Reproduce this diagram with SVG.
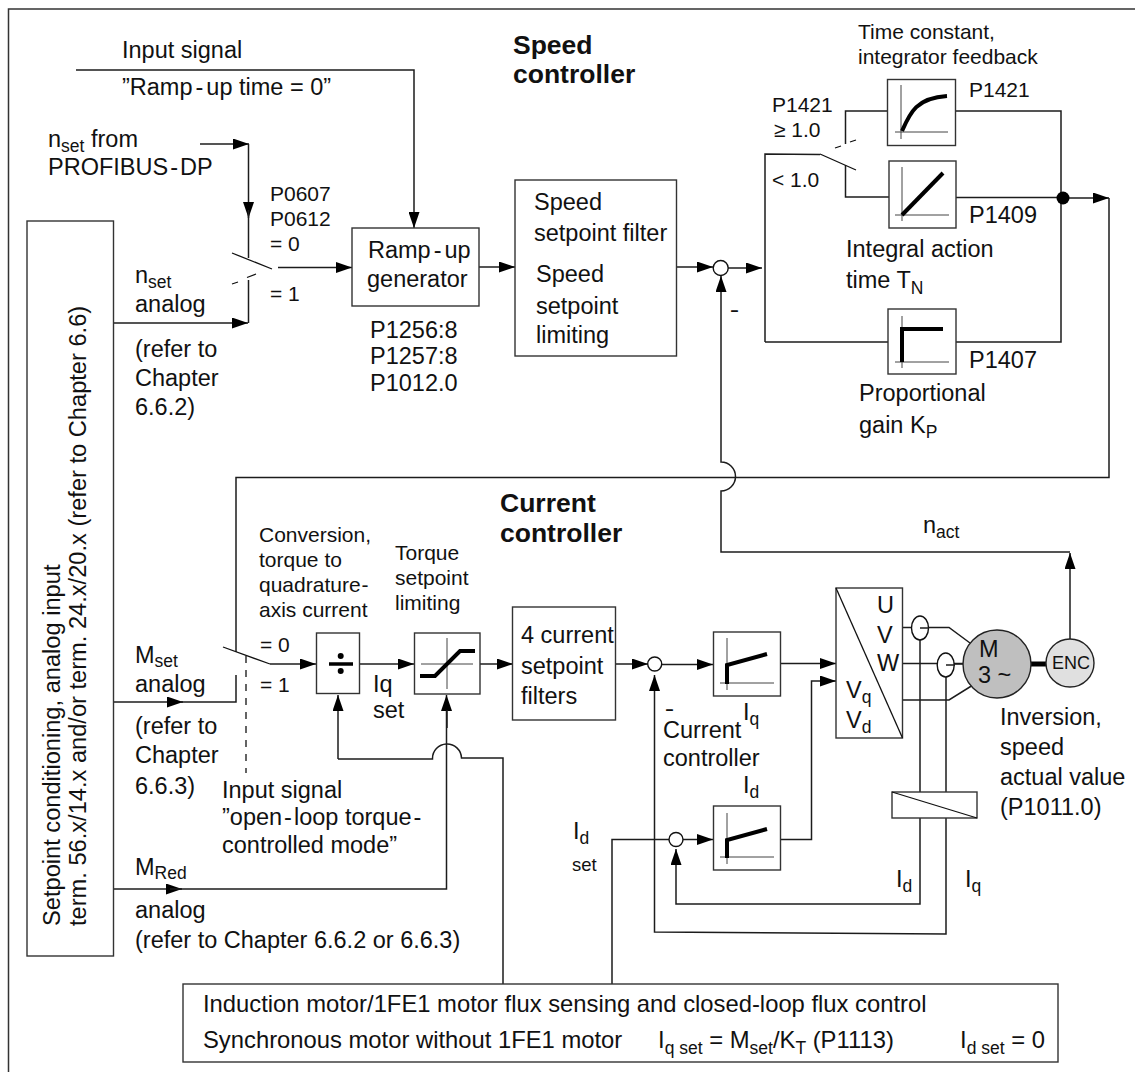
<svg xmlns="http://www.w3.org/2000/svg" width="1135" height="1072" viewBox="0 0 1135 1072">
<style>
text{font-family:"Liberation Sans",Arial,Helvetica,sans-serif;font-size:23.5px;fill:#111}
.s{font-size:21px}
.b{font-size:26.5px;font-weight:bold}
.f{font-size:23.8px}
.sub{font-size:17.5px}
.l{fill:none;stroke:#1c1c1c;stroke-width:1.5}
.box{fill:#fff;stroke:#333;stroke-width:1.4}
.ax{fill:none;stroke:#444;stroke-width:1}
.th{fill:none;stroke:#000;stroke-width:4;stroke-linejoin:miter}
.sw{fill:none;stroke:#111;stroke-width:1.3}
.sum{fill:#fff;stroke:#111;stroke-width:1.4}
</style>
<defs>
<marker id="a" viewBox="0 0 16 11" refX="16" refY="5.5" markerWidth="16" markerHeight="11" markerUnits="userSpaceOnUse" orient="auto"><path d="M0 0L16 5.5L0 11z" fill="#000"/></marker>
</defs>
<rect width="1135" height="1072" fill="#fff"/>
<path id="frame" d="M8.500 1072V9H1135" fill="none" stroke="#333" stroke-width="1.500"/>

<g id="connectors">
<path class="l" d="M76 70H414V228" marker-end="url(#a)"/>
<path class="l" d="M200 144H249" marker-end="url(#a)"/>
<path class="l" d="M248.500 144V218" marker-end="url(#a)"/>
<path class="l" d="M248.500 210V258"/>
<path class="l" d="M113 323H248" marker-end="url(#a)"/>
<path class="l" d="M248.500 323V280"/>
<path class="l" d="M278 267.500H352" stroke-width="2" marker-end="url(#a)"/>
<path class="l" d="M479 267H515" marker-end="url(#a)"/>
<path class="l" d="M676 267H713" marker-end="url(#a)"/>
<path class="l" d="M728 268H762" marker-end="url(#a)"/>
<path class="l" d="M765 342V154L820 154.500"/>
<path class="l" d="M765 342H888M956 342H1061V111H956M888 111H845.500V144M845.500 165V197H889"/>
<path class="l" d="M956 197.500H1063"/>
<path class="l" d="M1063 198H1109" marker-end="url(#a)"/>
<path class="l" d="M1109 198V477.500H236V652"/>
<path class="l" d="M1070 639V553" marker-end="url(#a)"/>
<path class="l" d="M1070 552H721V491A14.500 14.500 0 0 0 721 462V276" marker-end="url(#a)"/>
<path class="l" d="M113 702H183" marker-end="url(#a)"/>
<path class="l" d="M180 702H236V675"/>
<path class="l" d="M270 664H316" marker-end="url(#a)"/>
<path class="l" d="M360 664H414" stroke-width="2" marker-end="url(#a)"/>
<path class="l" d="M480 664H513" marker-end="url(#a)"/>
<path class="l" d="M615 664H648" marker-end="url(#a)"/>
<path class="l" d="M661 664.500H713" stroke-width="2" marker-end="url(#a)"/>
<path class="l" d="M781 663.500H836" marker-end="url(#a)"/>
<path class="l" d="M781 839.500H811.500V681H836" marker-end="url(#a)"/>
<path class="l" d="M113 889H182" marker-end="url(#a)"/>
<path class="l" d="M170 889H446.500V695" marker-end="url(#a)"/>
<path class="l" d="M447 728V710" stroke-width="2.500"/>
<path class="l" d="M338 759H432.500A14.500 14.500 0 0 1 461.500 758H503V984"/>
<path class="l" d="M338 759V695" marker-end="url(#a)"/>
<path class="l" d="M612 984V839.500H669"/>
<path class="l" d="M683 839.500H713" marker-end="url(#a)"/>
<path class="l" d="M946 792V665M946 818V934L654.500 932V675" marker-end="url(#a)"/>
<path class="l" d="M920 792V628M920 818V904H676V849" marker-end="url(#a)"/>
<path class="l" d="M903 627.500H949L970 643M903 663.500H964M903 700H949L973 685"/>
<path class="l" d="M950 664H964" stroke-width="3"/>
<path class="sw" d="M232 253L272 269M223 647L270 664M820 154L856 170"/>
<path class="sw" d="M232 284L238 282M247 277.500L256 274M835 148L841 146M850 142L856 140"/>
<path class="sw" stroke-width="2" stroke-dasharray="7 7" d="M246 656V773"/>
<path d="M1031 664H1046" fill="none" stroke="#000" stroke-width="5"/>
</g>

<g id="sum-speed"><circle class="sum" cx="720.700" cy="268" r="7.500"/></g>
<g id="sum-iq"><circle class="sum" cx="654.700" cy="664" r="7"/></g>
<g id="sum-id"><circle class="sum" cx="676" cy="839.500" r="7"/></g>
<circle id="junction" cx="1063" cy="198" r="6.500" fill="#000"/>

<g id="oval-1"><ellipse class="sum" cx="920" cy="628" rx="8.500" ry="12"/><path class="l" d="M920 628H929"/></g>
<g id="oval-2"><ellipse class="sum" cx="945.700" cy="665" rx="8.500" ry="12"/><path class="l" d="M946 665H955"/></g>

<g id="setpoint-conditioning">
<rect class="box" x="27" y="221" width="86.500" height="735"/>
<text transform="translate(60 926) rotate(-90)" style="font-size:23.650px">Setpoint conditioning, analog input</text>
<text transform="translate(86 926) rotate(-90)" style="font-size:23.650px">term. 56.x/14.x and/or term. 24.x/20.x (refer to Chapter 6.6)</text>
</g>

<g id="ramp-up">
<rect class="box" x="352" y="228" width="127" height="78"/>
<text x="368" y="258">Ramp<tspan dx="3">-</tspan><tspan dx="3">up</tspan></text>
<text x="367" y="287">generator</text>
</g>

<g id="speed-setpoint">
<rect class="box" x="515" y="180" width="161.500" height="176"/>
<text x="534" y="210">Speed</text>
<text x="534" y="241">setpoint filter</text>
<text x="536" y="282">Speed</text>
<text x="536" y="314">setpoint</text>
<text x="536" y="343">limiting</text>
</g>

<g id="p1421-box">
<rect class="box" x="887.500" y="79.500" width="68" height="66"/>
<path class="ax" d="M901 85V139M895 132H948"/>
<path class="th" d="M902 131C910 113 916 98 947 96"/>
</g>
<g id="p1409-box">
<rect class="box" x="889" y="161" width="67" height="67"/>
<path class="ax" d="M902 167V221M895 215H949"/>
<path class="th" d="M902 215L943 173"/>
</g>
<g id="p1407-box">
<rect class="box" x="888" y="309" width="68" height="65"/>
<path class="ax" d="M902 316V368M895 362H949"/>
<path class="th" d="M902 362V329H943"/>
</g>

<g id="divide-box">
<rect class="box" x="316.500" y="633" width="43" height="60.500"/>
<path d="M329 664H353" stroke="#000" stroke-width="3.500"/>
<circle cx="340.700" cy="656" r="3" fill="#000"/>
<circle cx="340.700" cy="671" r="3" fill="#000"/>
</g>
<g id="limit-box">
<rect class="box" x="414.500" y="633" width="65.500" height="61"/>
<path class="ax" d="M447 638V689M421 664H473"/>
<path class="th" d="M420 676H435L460 651H475"/>
</g>
<g id="current-filters">
<rect class="box" x="512.500" y="607" width="103" height="113"/>
<text x="521" y="643">4 current</text>
<text x="521" y="674">setpoint</text>
<text x="521" y="704">filters</text>
</g>
<g id="iq-box">
<rect class="box" x="713.500" y="632" width="67" height="64"/>
<path class="ax" d="M727 638V690M720 683H774"/>
<path class="th" d="M727 684V665L767 654"/>
</g>
<g id="id-box">
<rect class="box" x="713.500" y="806" width="67" height="64"/>
<path class="ax" d="M727 813V864M720 857H774"/>
<path class="th" d="M727 858V840L767 829"/>
</g>
<g id="converter">
<rect class="box" x="836" y="588" width="66.500" height="150"/>
<path class="sw" d="M836 588L902.500 738"/>
<text x="877" y="613">U</text>
<text x="877" y="643">V</text>
<text x="877" y="671">W</text>
<text x="846" y="698">V<tspan class="sub" dy="5">q</tspan></text>
<text x="846" y="728">V<tspan class="sub" dy="5">d</tspan></text>
</g>
<g id="transformer">
<rect class="box" x="892" y="792" width="85" height="26"/>
<path class="sw" d="M892 792L977 818"/>
</g>
<g id="motor">
<circle cx="997" cy="664" r="34" fill="#bfbfbf" stroke="#222" stroke-width="1.400"/>
<text x="979" y="657">M</text>
<text x="978" y="683">3 ~</text>
</g>
<g id="encoder">
<circle cx="1070" cy="663" r="24" fill="#e0e0e0" stroke="#222" stroke-width="1.400"/>
<text x="1052" y="669" style="font-size:18px">ENC</text>
</g>
<g id="flux-box">
<rect class="box" x="183" y="984" width="875" height="78"/>
<text class="f" x="203" y="1012">Induction motor/1FE1 motor flux sensing and closed-loop flux control</text>
<text class="f" x="203" y="1048">Synchronous motor without 1FE1 motor</text>
<text class="f" x="658" y="1048">I<tspan class="sub" dy="6">q set</tspan><tspan dy="-6"> = M</tspan><tspan class="sub" dy="6">set</tspan><tspan dy="-6">/K</tspan><tspan class="sub" dy="6">T</tspan><tspan dy="-6"> (P1113)</tspan></text>
<text class="f" x="960" y="1048">I<tspan class="sub" dy="6">d set</tspan><tspan dy="-6"> = 0</tspan></text>
</g>

<g id="labels">
<text x="122" y="58">Input signal</text>
<text x="122" y="95">”Ramp<tspan dx="3">-</tspan><tspan dx="3">up time = 0”</tspan></text>
<text x="48" y="147">n<tspan class="sub" dy="5">set</tspan><tspan dy="-5"> from</tspan></text>
<text x="48" y="175">PROFIBUS<tspan dx="2">-</tspan><tspan dx="2">DP</tspan></text>
<text class="s" x="270" y="201">P0607</text>
<text class="s" x="270" y="226">P0612</text>
<text class="s" x="270" y="251">= 0</text>
<text class="s" x="270" y="301">= 1</text>
<text x="135" y="283">n<tspan class="sub" dy="5">set</tspan></text>
<text x="135" y="312">analog</text>
<text x="135" y="357">(refer to</text>
<text x="135" y="386">Chapter</text>
<text x="135" y="415">6.6.2)</text>
<text x="370" y="338">P1256:8</text>
<text x="370" y="364">P1257:8</text>
<text x="370" y="391">P1012.0</text>
<text class="b" x="513" y="54">Speed</text>
<text class="b" x="513" y="83">controller</text>
<text class="s" x="858" y="39">Time constant,</text>
<text class="s" x="858" y="64">integrator feedback</text>
<text class="s" x="969" y="97">P1421</text>
<text class="s" x="772" y="112">P1421</text>
<text class="s" x="774" y="137">≥ 1.0</text>
<text class="s" x="772" y="187">&lt; 1.0</text>
<text x="969" y="223">P1409</text>
<text x="846" y="257">Integral action</text>
<text x="846" y="288">time T<tspan class="sub" dy="6">N</tspan></text>
<text x="969" y="368">P1407</text>
<text x="859" y="401">Proportional</text>
<text x="859" y="433">gain K<tspan class="sub" dy="5">P</tspan></text>
<text x="730" y="315" style="font-size:14px;font-weight:bold" textLength="9" lengthAdjust="spacingAndGlyphs">-</text>
<text class="b" x="500" y="512">Current</text>
<text class="b" x="500" y="542">controller</text>
<text x="923" y="533">n<tspan class="sub" dy="5">act</tspan></text>
<text class="s" x="259" y="542">Conversion,</text>
<text class="s" x="259" y="567">torque to</text>
<text class="s" x="259" y="592">quadrature<tspan dx="1">-</tspan></text>
<text class="s" x="259" y="617">axis current</text>
<text class="s" x="395" y="560">Torque</text>
<text class="s" x="395" y="585">setpoint</text>
<text class="s" x="395" y="610">limiting</text>
<text class="s" x="260" y="652">= 0</text>
<text class="s" x="260" y="692">= 1</text>
<text x="373" y="692">Iq</text>
<text x="373" y="718">set</text>
<text x="135" y="663">M<tspan class="sub" dy="4">set</tspan></text>
<text x="135" y="692">analog</text>
<text x="135" y="734">(refer to</text>
<text x="135" y="763">Chapter</text>
<text x="135" y="794">6.6.3)</text>
<text x="222" y="798">Input signal</text>
<text x="222" y="825">”open<tspan dx="2">-</tspan><tspan dx="2">loop torque</tspan><tspan dx="2">-</tspan></text>
<text x="222" y="853">controlled mode”</text>
<text x="135" y="875">M<tspan class="sub" dy="4">Red</tspan></text>
<text x="135" y="918">analog</text>
<text x="135" y="948">(refer to Chapter 6.6.2 or 6.6.3)</text>
<text x="665" y="714" style="font-size:14px;font-weight:bold" textLength="9" lengthAdjust="spacingAndGlyphs">-</text>
<text x="663" y="738">Current</text>
<text x="663" y="766">controller</text>
<text x="743" y="720">I<tspan class="sub" dy="5">q</tspan></text>
<text x="743" y="793">I<tspan class="sub" dy="5">d</tspan></text>
<text x="573" y="839">I<tspan class="sub" dy="5">d</tspan></text>
<text x="572" y="871" style="font-size:18.500px">set</text>
<text x="896" y="887">I<tspan class="sub" dy="5">d</tspan></text>
<text x="965" y="887">I<tspan class="sub" dy="5">q</tspan></text>
<text x="1000" y="725">Inversion,</text>
<text x="1000" y="755">speed</text>
<text x="1000" y="785">actual value</text>
<text x="1000" y="815">(P1011.0)</text>
</g>
</svg>
